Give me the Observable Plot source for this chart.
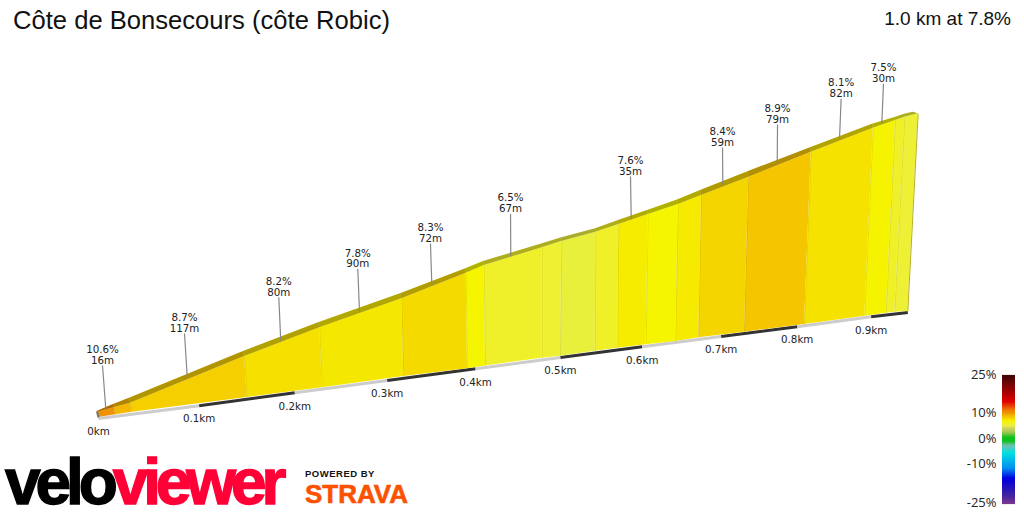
<!DOCTYPE html>
<html>
<head>
<meta charset="utf-8">
<script src="https://cdn.jsdelivr.net/npm/d3@7"></script>
<script src="https://cdn.jsdelivr.net/npm/@observablehq/plot@0.6"></script>
<style>
html,body{margin:0;padding:0;background:#fff;width:1024px;height:512px;overflow:hidden}
#wrap{position:relative;width:1024px;height:512px}
#wrap>*{position:absolute}
#main{left:0;top:0}
#legend{left:950px;top:365px}
.t{white-space:nowrap;font-family:"Liberation Sans",Arial,sans-serif;color:#111}
</style>
</head>
<body>
<div id="wrap">
  <div id="main"></div>
  <div id="legend"></div>
  <div class="t" style="left:13px;top:6px;font-size:25.6px;line-height:28px">Côte de Bonsecours (côte Robic)</div>
  <div class="t" style="right:13px;top:8px;font-size:19px;line-height:22px">1.0 km at 7.8%</div>
  <div class="t" style="left:5px;top:454px;font-size:64px;line-height:56px;font-weight:700;letter-spacing:-5.1px;-webkit-text-stroke:1.4px currentColor"><span style="color:#000">velo</span><span style="color:#ff0037">viewer</span></div>
  <div class="t" style="left:305px;top:467px;font-size:9.5px;line-height:13px;font-weight:700;letter-spacing:.5px">POWERED BY</div>
  <div class="t" style="left:305px;top:479px;font-size:26px;line-height:30px;font-weight:700;color:#fc5200;-webkit-text-stroke:.6px #fc5200">STRAVA</div>
</div>
<script>
// Projected view of the climb: horizontal in km, vertical in metres.
const crestKm = [0,.0207,.0402,.1793,.2711,.3711,.4496,.4716,.5423,.5662,.6077,.6357,.6716,.7082,.7366,.7943,.8704,.9460,.9732,.9845,1.0008];
const crestM  = [1.28,2.57,3.67,15.65,23.02,30.46,37.02,39.0,43.54,45.16,47.55,49.52,52.09,54.65,56.96,61.66,68.07,74.23,76.2,77.05,77.93];
const baseKm  = [.0012,.022,.0423,.1826,.274,.3735,.4512,.4732,.5423,.5646,.607,.6345,.6691,.7052,.7333,.789,.8622,.9357,.9618,.9723,.9882];
const baseM   = [0,.69,1.36,5.13,7.62,10.52,12.5,13.21,15.22,15.73,17.01,17.78,18.65,19.5,20.45,21.89,23.86,25.99,26.76,27.02,27.2];
const ridgeKm = [-.0006,.0195,.039,.178,.2695,.3695,.4484,.4707,.5415,.5652,.6073,.6354,.6707,.7073,.7354,.7933,.8695,.9451,.9726,.9841,.9948];
const ridgeM  = [1.54,3.34,4.95,16.93,24.3,31.74,38.12,40.03,44.49,46.06,48.45,50.55,53.12,55.8,58.24,63.07,69.22,75.26,76.97,77.82,78.33];
const grades  = [10.6,9.5,8.7,8.2,7.8,8.3,7.2,6.5,6.2,5.5,6.6,7.6,7.1,7.7,8.4,8.9,8.1,7.5,6.6,6.0];

// Distance strip under the climb
const stripLabels = ["0km","0.1km","0.2km","0.3km","0.4km","0.5km","0.6km","0.7km","0.8km","0.9km"];
const stripKm = [.0012,.124,.2406,.3533,.461,.5646,.6643,.7606,.8533,.9435,.9882];
const stripM  = [-.26,3.03,6.36,9.49,12.5,15.39,18.14,20.78,23.3,25.84,26.94];

// Climb-section annotations
const noteGrade = ["10.6%","8.7%","8.2%","7.8%","8.3%","6.5%","7.6%","8.4%","8.9%","8.1%","7.5%"];
const noteLen   = ["16m","117m","80m","90m","72m","67m","35m","59m","79m","82m","30m"];
const noteKm1 = [.0101,.1094,.2235,.3195,.4077,.504,.6509,.7626,.8289,.9049,.9565];
const noteM1  = [2.23,10.34,19.58,27.2,34.05,41.31,50.88,59.71,65.25,71.51,75.51];
const noteKm2 = [.0061,.1061,.2211,.3174,.4061,.5037,.65,.7622,.8293,.9069,.9585];
const noteM2  = [13.34,21.55,30.87,38.15,44.65,52.27,61.84,69.28,75.18,81.77,85.62];

// Gradient colour ramp
const rampPct = [-25,-21.5,-15,-11,-5,-2.2,-.5,1,3,4.5,5.5,6.2,6.6,7.1,7.5,7.6,7.8,8.2,8.4,8.7,8.9,9.5,10.6,11.5,15,19,25];
const rampCol = ["#7a3a90","#4020a0","#0000e0","#0090f0","#00e0e0","#70c0b0","#10c020","#10c020","#a0c850","#d0d060","#e8f03c","#f0f032","#f0f028","#f5f500","#f5f300","#f5ec00","#f5e800","#f5e000","#f5d500","#f5cf00","#f5c600","#f5b800","#ee9200","#f08000","#e00000","#a00000","#400808"];
const legendTicks = [25,10,0,-10,-25];

const color = {type:"linear", domain:rampPct, range:rampCol, interpolate:"rgb"};
const segRows = grades.flatMap((g,i)=>[i,i+1].map(j=>({seg:i,grade:g,j})));
const idx = d3.range(crestKm.length);
const notes = noteGrade.map((g,i)=>({label:g+"\n"+noteLen[i],x1:noteKm1[i],y1:noteM1[i],x2:noteKm2[i],y2:noteM2[i]}));
const strip = stripKm.slice(0,-1).map((k,i)=>({i,x1:k,y1:stripM[i],x2:stripKm[i+1],y2:stripM[i+1],label:stripLabels[i]}));

const plot = Plot.plot({
  width:1024, height:512, margin:0,
  style:{background:"#fff",overflow:"visible",fontFamily:"'DejaVu Sans',Verdana,sans-serif"},
  x:{axis:null,domain:[0,1],range:[97,917]},
  y:{axis:null,domain:[0,78],range:[417,113]},
  color,
  marks:[
    Plot.link(strip,{x1:"x1",y1:"y1",x2:"x2",y2:"y2",stroke:d=>d.i%2?"#333":"#ccc",strokeWidth:3}),
    Plot.area(segRows,{x1:d=>baseKm[d.j],y1:d=>baseM[d.j],x2:d=>crestKm[d.j],y2:d=>crestM[d.j],z:"seg",fill:"grade"}),
    Plot.link(idx.slice(1,-1),{x1:i=>baseKm[i],y1:i=>baseM[i],x2:i=>crestKm[i],y2:i=>crestM[i],stroke:"#000",strokeOpacity:.07,strokeWidth:1}),
    Plot.area(segRows,{x1:d=>crestKm[d.j],y1:d=>crestM[d.j],x2:d=>ridgeKm[d.j],y2:d=>ridgeM[d.j],z:"seg",fill:"grade"}),
    Plot.area(segRows,{x1:d=>crestKm[d.j],y1:d=>crestM[d.j],x2:d=>ridgeKm[d.j],y2:d=>ridgeM[d.j],z:"seg",fill:"#000",fillOpacity:.28}),
    Plot.link([20],{x1:i=>baseKm[i],y1:i=>baseM[i],x2:i=>crestKm[i],y2:i=>crestM[i],stroke:"#b5b020",strokeWidth:1}),
    Plot.link([0],{x1:i=>baseKm[i],y1:i=>baseM[i],x2:i=>ridgeKm[i],y2:i=>ridgeM[i],stroke:"#777",strokeWidth:2}),
    Plot.link(notes,{x1:"x1",y1:"y1",x2:"x2",y2:"y2",stroke:"#888",strokeWidth:1.2}),
    Plot.text(notes,{x:"x2",y:"y2",text:"label",lineAnchor:"bottom",dy:-1.5,lineHeight:1.05,fontSize:10.3,fill:"#222"}),
    Plot.text(strip,{x:"x1",y:"y1",text:"label",dy:13.5,fontSize:10.3,fill:"#222"})
  ]
});
document.getElementById("main").append(plot);

const legend = Plot.plot({
  width:65, height:148, marginLeft:52, marginRight:0, marginTop:10, marginBottom:10,
  style:{background:"transparent",overflow:"visible",fontFamily:"'Open Sans',sans-serif",fontSize:"13px",color:"#222"},
  x:{axis:null},
  y:{axis:null,domain:[-25,25]},
  color,
  marks:[
    Plot.ruleY(d3.ticks(-25,25,200),{y:d=>d,stroke:d=>d,strokeWidth:1.2}),
    Plot.axisY(legendTicks,{anchor:"left",tickFormat:d=>d+"%",tickSize:0,tickPadding:6,label:null,dy:-1})
  ]
});
document.getElementById("legend").append(legend);
</script>
</body>
</html>
